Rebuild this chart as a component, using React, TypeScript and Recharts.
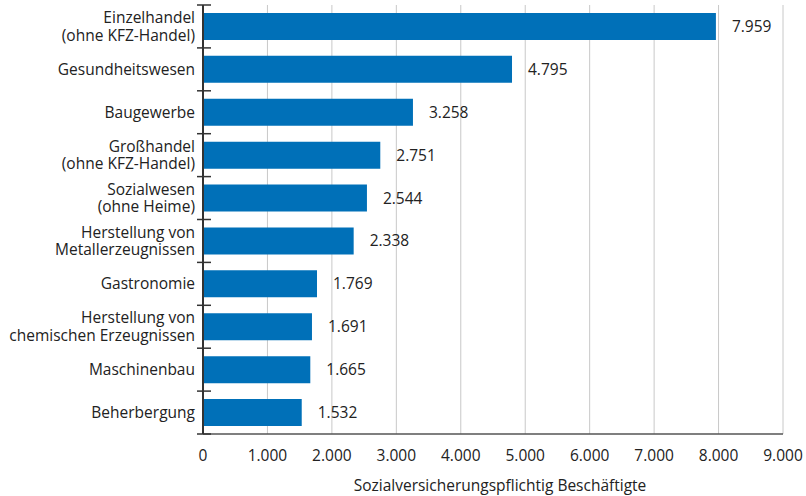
import { Bar, BarChart, CartesianGrid, LabelList, XAxis, YAxis } from "recharts";

const BRANCHES = [
  "Einzelhandel\n(ohne KFZ-Handel)",
  "Gesundheitswesen",
  "Baugewerbe",
  "Großhandel\n(ohne KFZ-Handel)",
  "Sozialwesen\n(ohne Heime)",
  "Herstellung von\nMetallerzeugnissen",
  "Gastronomie",
  "Herstellung von\nchemischen Erzeugnissen",
  "Maschinenbau",
  "Beherbergung",
];

const EMPLOYEES = [7959, 4795, 3258, 2751, 2544, 2338, 1769, 1691, 1665, 1532];

const X_TICKS = [0, 1000, 2000, 3000, 4000, 5000, 6000, 7000, 8000, 9000];

const FONT = "'Open Sans', 'Noto Sans', sans-serif";
const FS = 15.5;
const LINE_H = 17.5;
const TEXT = "#222";
const BLUE = "#0070b8";

const data = BRANCHES.map((name, i) => ({ name, value: EMPLOYEES[i] }));

// German thousands separator
function fmt(n: number): string {
  return String(Math.round(n)).replace(/\B(?=(\d{3})+(?!\d))/g, ".");
}

function BranchTick(props: any) {
  const { x, y, payload, index } = props;
  const lines = String(payload.value).split("\n");
  const half = payload.offset || 21.45;
  const axisX = x + 8;
  return (
    <g>
      <line x1={axisX - 6} x2={axisX + 8} y1={y - half} y2={y - half} stroke="#333" strokeWidth={1.5} />
      {index === BRANCHES.length - 1 ? (
        <line x1={axisX - 6} x2={axisX + 8} y1={y + half} y2={y + half} stroke="#333" strokeWidth={1.5} />
      ) : null}
      <text x={x} y={y} textAnchor="end" fill={TEXT} fontSize={FS} fontFamily={FONT}>
        {lines.map((l, i) => (
          <tspan key={i} x={x} y={y + (i - (lines.length - 1) / 2) * LINE_H} dy="0.35em">
            {l}
          </tspan>
        ))}
      </text>
    </g>
  );
}

export default function App() {
  return (
    <div style={{ position: "absolute", left: 0, top: 0, background: "#fff" }}>
      <BarChart
        width={806}
        height={496}
        data={data}
        layout="vertical"
        margin={{ top: 5, right: 23, bottom: 0, left: 0 }}
        barCategoryGap="18.5%"
      >
        <CartesianGrid horizontal={false} stroke="#c8c8c8" strokeWidth={1} />
        <XAxis
          type="number"
          domain={[0, 9000]}
          ticks={X_TICKS}
          tickFormatter={fmt}
          tickLine={false}
          tickSize={0}
          tickMargin={16}
          height={62}
          axisLine={{ stroke: "#555", strokeWidth: 1.5 }}
          tick={{ fill: TEXT, fontSize: FS, fontFamily: FONT }}
          label={{
            value: "Sozialversicherungspflichtig Beschäftigte",
            position: "insideBottom",
            offset: 5,
            dx: 7,
            fill: TEXT,
            fontSize: FS,
            fontFamily: FONT,
          }}
        />
        <YAxis
          type="category"
          dataKey="name"
          width={203}
          tickLine={false}
          tickSize={0}
          tickMargin={8}
          interval={0}
          axisLine={{ stroke: "#333", strokeWidth: 2 }}
          tick={<BranchTick />}
        />
        <Bar dataKey="value" fill={BLUE} isAnimationActive={false}>
          <LabelList
            dataKey="value"
            position="right"
            offset={16}
            formatter={(v: any) => fmt(Number(v))}
            fill={TEXT}
            fontSize={FS}
            fontFamily={FONT}
          />
        </Bar>
      </BarChart>
    </div>
  );
}
